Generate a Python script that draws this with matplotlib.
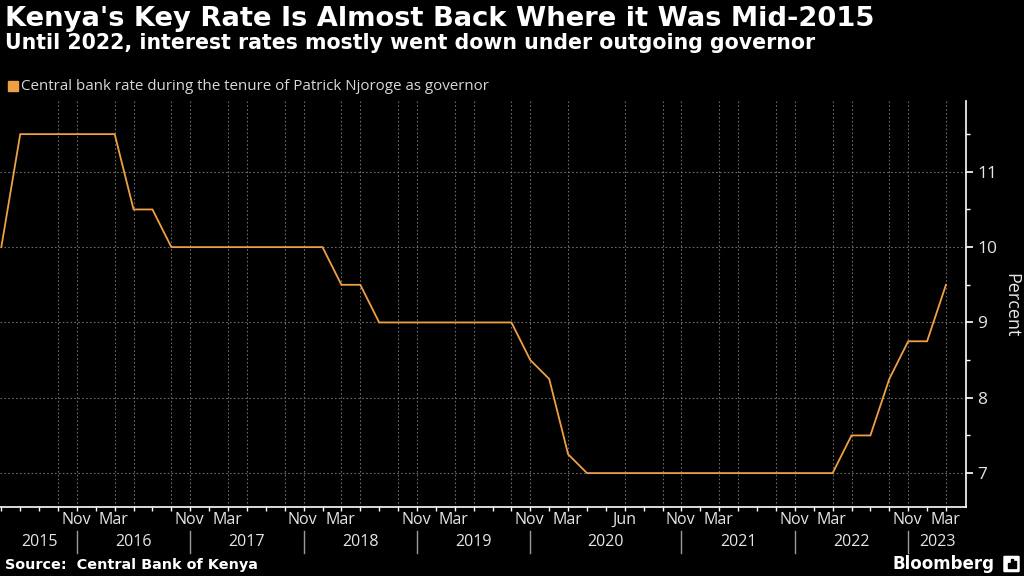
import numpy as np
import matplotlib
matplotlib.use("Agg")
import matplotlib.pyplot as plt
import matplotlib.transforms as mtrans
import matplotlib.patches as mpatches

# central bank rate, one value per MPC observation (Jun 2015 .. Mar 2023)
rates = [10.0,
         11.5, 11.5, 11.5, 11.5, 11.5, 11.5,
         10.5, 10.5,
         10.0, 10.0, 10.0, 10.0, 10.0, 10.0, 10.0, 10.0, 10.0,
         9.5, 9.5,
         9.0, 9.0, 9.0, 9.0, 9.0, 9.0, 9.0, 9.0,
         8.5, 8.25, 7.25,
         7.0, 7.0, 7.0, 7.0, 7.0, 7.0, 7.0, 7.0, 7.0, 7.0, 7.0, 7.0, 7.0, 7.0,
         7.5, 7.5, 8.25, 8.75, 8.75, 9.5]

# observation index of each month label on the axis
month_obs = [4, 6, 10, 12, 16, 18, 22, 24, 28, 30, 33, 36, 38, 42, 44, 48, 50]
month_txt = ['Nov', 'Mar', 'Nov', 'Mar', 'Nov', 'Mar', 'Nov', 'Mar', 'Nov', 'Mar',
             'Jun', 'Nov', 'Mar', 'Nov', 'Mar', 'Nov', 'Mar']
# first observation of each year span
year_start = [0, 4, 10, 16, 22, 28, 36, 42, 48]
years = ['2015', '2016', '2017', '2018', '2019', '2020', '2021', '2022', '2023']
# observations carrying a vertical gridline
grid_obs = [3, 4, 6, 7, 9, 10, 12, 13, 15, 16, 18, 19, 21, 22, 24, 25, 27, 28,
            30, 33, 35, 36, 38, 39, 41, 42, 44, 45, 47, 48, 50]

orange = '#f0a044'
fg = '#e6e6e6'

fig = plt.figure(figsize=(10.24, 5.76), dpi=100, facecolor='black')
ax = fig.add_axes([0.0, 1 - 507 / 576, 966 / 1024, 406 / 576])
ax.set_facecolor('black')

x = np.arange(len(rates))
xmax = 51.06
ax.set_xlim(-0.07, xmax)
ax.set_ylim(6.55, 11.94)

for g in grid_obs:
    ax.axvline(g, color='#6a6a6a', lw=0.8, ls=(0, (1.5, 2)), zorder=1)
for v in [7, 8, 9, 10, 11]:
    ax.axhline(v, color='#6a6a6a', lw=0.8, ls=(0, (1.5, 2)), zorder=1)

ax.plot(x, rates, color=orange, lw=1.3, zorder=3, solid_joinstyle='miter')

for s in ['left', 'top']:
    ax.spines[s].set_visible(False)
for s in ['right', 'bottom']:
    ax.spines[s].set_color('white')
    ax.spines[s].set_linewidth(1.2)

ax.yaxis.tick_right()
ax.set_yticks([7, 8, 9, 10, 11])
ax.set_yticks([7.5, 8.5, 9.5, 10.5, 11.5], minor=True)
ax.tick_params(axis='y', which='major', colors='white', length=5, width=1.2,
               pad=3, labelsize=12.5, labelcolor=fg)
ax.tick_params(axis='y', which='minor', colors='white', length=3, width=1)
for lab in ax.get_yticklabels():
    lab.set_family('Open Sans')

fig.text(1011 / 1024, 1 - 305 / 576, 'Percent', rotation=270, color=fg,
         fontsize=13, family='Open Sans', ha='center', va='center')

ax.set_xticks(x)
ax.set_xticklabels([])
ax.tick_params(axis='x', colors='white', length=3, width=1)

tr = mtrans.blended_transform_factory(ax.transData, fig.transFigure)
for p, t in zip(month_obs, month_txt):
    ax.text(p - 0.05, 1 - 520 / 576, t, transform=tr, ha='center', va='center',
            color=fg, fontsize=11.5, family='Open Sans', clip_on=False)

edges = year_start + [xmax]
for i, y in enumerate(years):
    mid = (edges[i] + edges[i + 1]) / 2
    ax.text(mid, 1 - 542 / 576, y, transform=tr, ha='center', va='center',
            color=fg, fontsize=11.5, family='Open Sans', clip_on=False)
for e in year_start[1:]:
    ax.plot([e, e], [1 - 531 / 576, 1 - 553 / 576], transform=tr,
            color='#9a9a9a', lw=1, clip_on=False)

r = fig.canvas.get_renderer()


def fit(t, width_px):
    w = t.get_window_extent(r).width
    t.set_fontsize(t.get_fontsize() * width_px / w)


title = fig.text(5 / 1024, 1 - 26 / 576,
                 "Kenya's Key Rate Is Almost Back Where it Was Mid-2015",
                 color='white', fontsize=16, fontweight='bold',
                 family='DejaVu Sans', va='baseline')
fit(title, 875)
sub = fig.text(5 / 1024, 1 - 49 / 576,
               "Until 2022, interest rates mostly went down under outgoing governor",
               color='white', fontsize=13, fontweight='bold',
               family='DejaVu Sans', va='baseline')
fit(sub, 805)

fig.patches.append(mpatches.Rectangle((8 / 1024, 1 - 91 / 576), 10 / 1024, 10 / 576,
                                      transform=fig.transFigure, color=orange))
leg = fig.text(21 / 1024, 1 - 86 / 576,
               "Central bank rate during the tenure of Patrick Njoroge as governor",
               color='#d8d8d8', fontsize=10.5, family='Open Sans', va='center')
fit(leg, 471)

src = fig.text(5 / 1024, 1 - 565 / 576, "Source:  Central Bank of Kenya",
               color='white', fontsize=11, fontweight='bold',
               family='DejaVu Sans', va='center')
fit(src, 252)

bb = fig.text(893 / 1024, 1 - 564 / 576, "Bloomberg", color='white',
              fontsize=14, fontweight='bold', family='DejaVu Sans', va='center')
fit(bb, 102)
fig.patches.append(mpatches.FancyBboxPatch((1005 / 1024, 1 - 571 / 576), 13 / 1024, 14 / 576,
                                           boxstyle='round,pad=0.001',
                                           transform=fig.transFigure, color='white'))
for k, h in enumerate([5, 9, 7]):
    fig.patches.append(mpatches.Rectangle(((1008 + 3 * k) / 1024, 1 - 568 / 576),
                                          1.5 / 1024, h / 576,
                                          transform=fig.transFigure, color='black'))

fig.savefig('out.png', dpi=100, facecolor='black')
